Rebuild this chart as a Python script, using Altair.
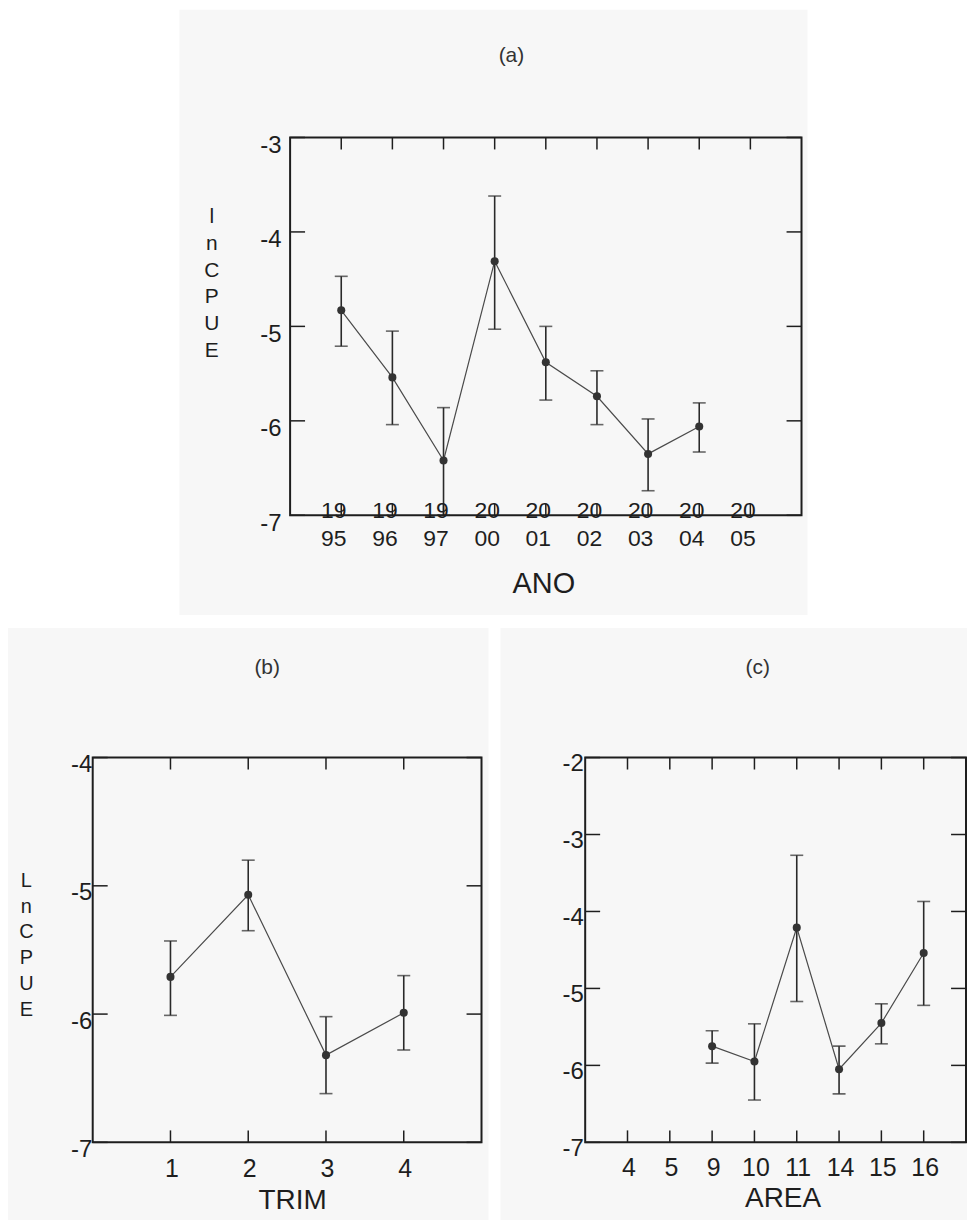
import altair as alt
import pandas as pd

FONT = "Liberation Sans"
INK = "#1e1e1e"
BG = "#f7f7f7"
ERR = "#2a2a2a"
LINE = "#4a4a4a"
PT = "#333333"

# ---------------- data ----------------
# (a) ANO
ano_labels = ["1995", "1996", "1997", "2000", "2001", "2002", "2003", "2004", "2005"]
ano_present = ["1995", "1996", "1997", "2000", "2001", "2002", "2003", "2004"]
ano_mean = [-4.83, -5.54, -6.42, -4.31, -5.38, -5.74, -6.35, -6.06]
ano_upper = [-4.47, -5.05, -5.86, -3.62, -5.00, -5.47, -5.98, -5.81]
ano_lower = [-5.21, -6.04, -7.00, -5.03, -5.78, -6.04, -6.74, -6.33]
ano_yticks = [-7, -6, -5, -4, -3]

# (b) TRIM
trim_labels = ["1", "2", "3", "4"]
trim_present = ["1", "2", "3", "4"]
trim_mean = [-5.71, -5.07, -6.32, -5.99]
trim_upper = [-5.43, -4.80, -6.02, -5.70]
trim_lower = [-6.01, -5.35, -6.62, -6.28]
trim_yticks = [-7, -6, -5, -4]

# (c) AREA
area_labels = ["4", "5", "9", "10", "11", "14", "15", "16"]
area_present = ["9", "10", "11", "14", "15", "16"]
area_mean = [-5.75, -5.95, -4.21, -6.05, -5.45, -4.54]
area_upper = [-5.55, -5.46, -3.27, -5.75, -5.20, -3.87]
area_lower = [-5.97, -6.45, -5.17, -6.37, -5.72, -5.22]
area_yticks = [-7, -6, -5, -4, -3, -2]

panel_titles = ["(a)", "(b)", "(c)"]

NEG_EXPR = "datum.value < 0 ? '-' + abs(datum.value) : '' + datum.value"


def arr_expr(items):
    parts = []
    for it in items:
        if isinstance(it, (list, tuple)):
            parts.append("[" + ",".join("'" + s + "'" for s in it) + "]")
        else:
            parts.append("'" + it + "'")
    return "[" + ",".join(parts) + "][datum.value - 1]"


def make_panel(labels, present, mean, upper, lower, yticks, xdomain, W, H,
               xaxis, yaxis, title, title_xy, bg, tick_v=12, tick_h=15):
    pos_all = list(range(1, len(labels) + 1))
    pos = [labels.index(p) + 1 for p in present]
    df = pd.DataFrame({"pos": pos, "mean": mean, "upper": upper, "lower": lower})
    xt = pd.DataFrame({"pos": pos_all})
    yt = pd.DataFrame({"v": yticks})
    one = pd.DataFrame({"t": [title]})

    xs = alt.Scale(domain=xdomain, nice=False, zero=False)
    ys = alt.Scale(domain=[min(yticks), max(yticks)], nice=False, zero=False)
    X = alt.X("pos:Q", scale=xs, axis=xaxis)

    bg_layer = alt.Chart(one).mark_rect(color=BG).encode(
        x=alt.value(bg[0]), x2=alt.value(bg[1]), y=alt.value(bg[2]), y2=alt.value(bg[3]))
    frame = alt.Chart(one).mark_rect(fillOpacity=0, stroke=INK, strokeWidth=2).encode(
        x=alt.value(0), x2=alt.value(W), y=alt.value(0), y2=alt.value(H))
    ttl = alt.Chart(one).mark_text(font=FONT, fontSize=21, color="#333333",
                                   align="center", baseline="alphabetic").encode(
        text="t:N", x=alt.value(title_xy[0]), y=alt.value(title_xy[1]))

    top_t = alt.Chart(xt).mark_rule(color=INK, strokeWidth=1.5).encode(
        x=X, y=alt.value(0), y2=alt.value(tick_v))
    bot_t = alt.Chart(xt).mark_rule(color=INK, strokeWidth=1.5).encode(
        x=X, y=alt.value(H - tick_v), y2=alt.value(H))
    Yt = alt.Y("v:Q", scale=ys, axis=yaxis)
    left_t = alt.Chart(yt).mark_rule(color=INK, strokeWidth=1.5).encode(
        y=Yt, x=alt.value(0), x2=alt.value(tick_h))
    right_t = alt.Chart(yt).mark_rule(color=INK, strokeWidth=1.5).encode(
        y=Yt, x=alt.value(W - tick_h), x2=alt.value(W))

    base = alt.Chart(df)
    err = base.mark_rule(color=ERR, strokeWidth=1.6).encode(
        x=X, y=alt.Y("lower:Q", scale=ys, axis=yaxis), y2="upper:Q")
    cap_u = base.mark_tick(orient="horizontal", size=13, thickness=1.6, color=ERR).encode(
        x=X, y=alt.Y("upper:Q", scale=ys, axis=yaxis))
    cap_l = base.mark_tick(orient="horizontal", size=13, thickness=1.6, color=ERR).encode(
        x=X, y=alt.Y("lower:Q", scale=ys, axis=yaxis))
    line = base.mark_line(color=LINE, strokeWidth=1.2).encode(
        x=X, y=alt.Y("mean:Q", scale=ys, axis=yaxis))
    pts = base.mark_point(filled=True, size=65, color=PT, opacity=1).encode(
        x=X, y=alt.Y("mean:Q", scale=ys, axis=yaxis))

    return alt.layer(bg_layer, ttl, err, cap_u, cap_l, line, pts,
                     top_t, bot_t, left_t, right_t, frame).properties(
        width=W, height=H)


def xaxis_kw(values, expr, fsize, pad, offset, title, tsize, tx, ty, lh=None):
    kw = dict(values=values, labelExpr=expr, labelFontSize=fsize, labelFont=FONT,
              labelColor=INK, labelPadding=pad, labelOffset=offset,
              domain=False, ticks=False, grid=False, labelOverlap=False,
              labelFlush=False, title=title, titleFontSize=tsize, titleFont=FONT,
              titleFontWeight="normal", titleColor=INK, titleBaseline="alphabetic",
              titleX=tx, titleY=ty, zindex=2)
    if lh is not None:
        kw["labelLineHeight"] = lh
    return alt.Axis(**kw)


def yaxis_kw(values, pad, offset, title=None, tx=0, ty=0, lh=27, tsize=20):
    kw = dict(values=values, labelExpr=NEG_EXPR, labelFontSize=24, labelFont=FONT,
              labelColor=INK, labelPadding=pad, labelOffset=offset,
              domain=False, ticks=False, grid=False, labelOverlap=False,
              labelFlush=False, zindex=2)
    if title is None:
        kw["title"] = None
    else:
        kw.update(title=title, titleAngle=0, titleAlign="center", titleBaseline="top",
                  titleX=tx, titleY=ty, titleLineHeight=lh, titleFontSize=tsize,
                  titleFont=FONT, titleFontWeight="normal", titleColor=INK)
    return alt.Axis(**kw)


# ---------------- panel (a) ----------------
Wa, Ha = 513, 379
xa = xaxis_kw(list(range(1, 10)), arr_expr([[s[:2], s[2:]] for s in ano_labels]),
              23, -16, -8, "ANO", 29, 254, 77, lh=28)
ya = yaxis_kw(ano_yticks, 9, 8, title=list("lnCPUE"), tx=-79, ty=68, lh=27, tsize=21)
panel_a = make_panel(ano_labels, ano_present, ano_mean, ano_upper, ano_lower,
                     ano_yticks, [0, 10], Wa, Ha, xa, ya, panel_titles[0], (222, -76),
                     bg=(-111, 519, -128, 479))

# ---------------- panel (b) ----------------
Wb, Hb = 390, 386
xb = xaxis_kw(list(range(1, 5)), arr_expr(trim_labels), 25, 14, 1, "TRIM", 28, 200, 66)
yb = yaxis_kw(trim_yticks, 1, 7, title=list("LnCPUE"), tx=-67, ty=113, lh=26, tsize=20)
panel_b = make_panel(trim_labels, trim_present, trim_mean, trim_upper, trim_lower,
                     trim_yticks, [0, 5], Wb, Hb, xb, yb, panel_titles[1], (175, -84),
                     bg=(-85, 397, -130, 464))

# ---------------- panel (c) ----------------
Wc, Hc = 382, 386
xc = xaxis_kw(list(range(1, 9)), arr_expr(area_labels), 25, 13, 1, "AREA", 28, 198, 64)
yc = yaxis_kw(area_yticks, 2, 6)
panel_c = make_panel(area_labels, area_present, area_mean, area_upper, area_lower,
                     area_yticks, [0, 9], Wc, Hc, xc, yc, panel_titles[2], (173, -84),
                     bg=(-85, 383, -130, 464))

# ---------------- layout ----------------
spacer = alt.Chart(pd.DataFrame({"k": [0]})).mark_point(opacity=0, size=1).encode(
    x=alt.value(40), y=alt.value(5)).properties(width=85, height=10)

row1 = alt.hconcat(spacer, panel_a, spacing=0)
row2 = alt.hconcat(panel_b, panel_c, spacing=10)

chart = alt.vconcat(row1, row2, spacing=11).properties(
    padding={"left": 7, "top": 7, "right": 0, "bottom": 0},
    background="white",
).configure_view(stroke="transparent", fill="transparent")

chart.save("out.html", embed_options={"renderer": "svg", "actions": False})
